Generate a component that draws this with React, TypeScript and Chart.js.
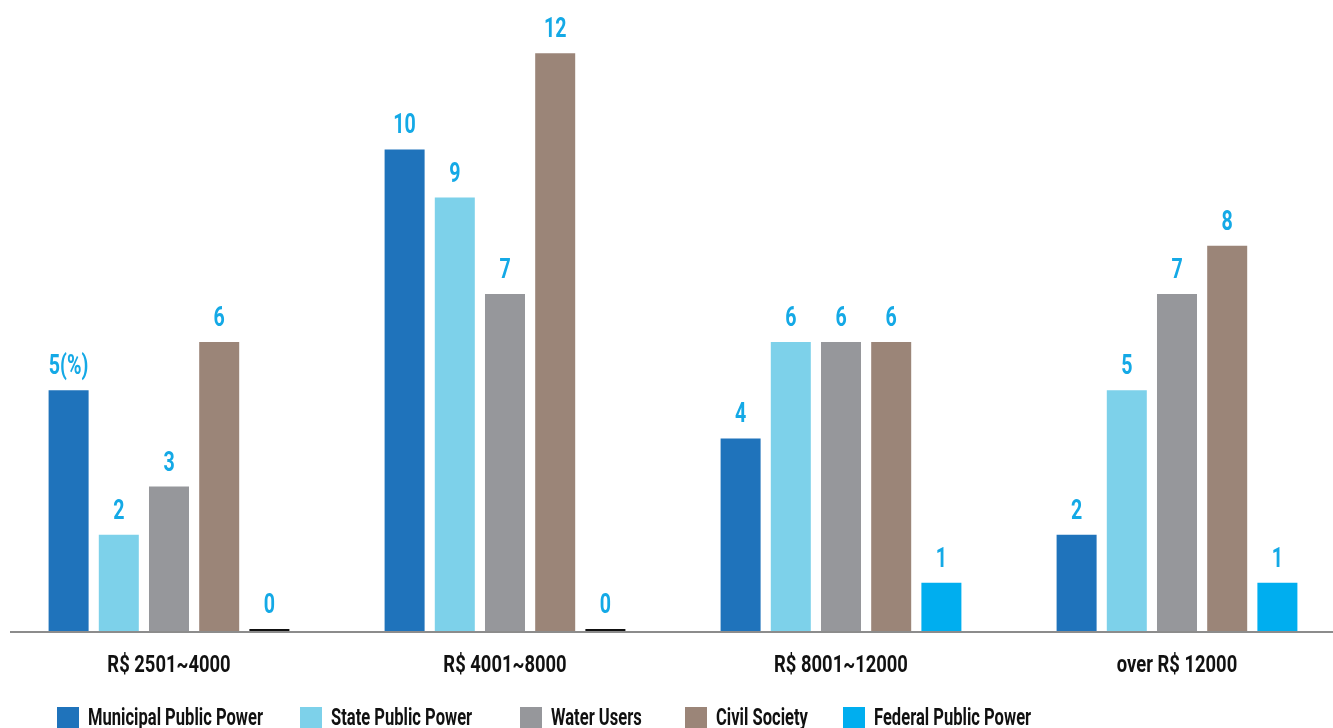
import React, { useEffect, useRef } from "react";
import { Chart, registerables } from "chart.js";

Chart.register(...registerables);

const categories = ["R$ 2501~4000", "R$ 4001~8000", "R$ 8001~12000", "over R$ 12000"];
const seriesNames = ["Municipal Public Power", "State Public Power", "Water Users", "Civil Society", "Federal Public Power"];
const municipal = [5, 10, 4, 2];
const statePower = [2, 9, 6, 5];
const waterUsers = [3, 7, 6, 7];
const civilSociety = [6, 12, 6, 8];
const federal = [0, 0, 1, 1];
const seriesColors = ["#1F73BB", "#7DD1EA", "#96979B", "#9B8578", "#00AEEF"];
const legendX = [57, 300, 520, 685, 843];

const FONT = "Roboto, 'Liberation Sans', sans-serif";

function squeezedText(ctx: any, txt: string, x: number, y: number, sx: number) {
  ctx.save();
  ctx.translate(x, y);
  ctx.scale(sx, 1);
  ctx.fillText(txt, 0, 0);
  ctx.restore();
}

const labelPlugin = {
  id: "valueLabels",
  afterDatasetsDraw(chart: any) {
    const ctx = chart.ctx;
    ctx.save();
    ctx.font = `bold 28px ${FONT}`;
    ctx.fillStyle = "#14A9E6";
    ctx.textAlign = "center";
    ctx.textBaseline = "alphabetic";
    chart.data.datasets.forEach((ds: any, di: number) => {
      const meta = chart.getDatasetMeta(di);
      meta.data.forEach((bar: any, i: number) => {
        const v = ds.data[i];
        let txt = String(v);
        if (di === 0 && i === 0) txt = v + "(%)";
        squeezedText(ctx, txt, bar.x, bar.y - 16, 0.7);
      });
    });
    ctx.restore();
  },
};

const axisPlugin = {
  id: "axisLine",
  beforeDatasetsDraw(chart: any) {
    const ctx = chart.ctx;
    const y = chart.scales.y.getPixelForValue(0);
    ctx.save();
    ctx.strokeStyle = "#8C8C8C";
    ctx.lineWidth = 2;
    ctx.beginPath();
    ctx.moveTo(10, y + 1);
    ctx.lineTo(chart.width, y + 1);
    ctx.stroke();
    ctx.restore();
  },
  afterDraw(chart: any) {
    const ctx = chart.ctx;
    const xs = chart.scales.x;
    const y0 = chart.scales.y.getPixelForValue(0);
    ctx.save();
    ctx.font = `bold 23px ${FONT}`;
    ctx.fillStyle = "#111111";
    ctx.textAlign = "center";
    ctx.textBaseline = "alphabetic";
    categories.forEach((c, i) => {
      squeezedText(ctx, c, xs.getPixelForValue(i), y0 + 41, 0.8);
    });
    ctx.restore();
  },
};

const legendPlugin = {
  id: "customLegend",
  afterDraw(chart: any) {
    const ctx = chart.ctx;
    ctx.save();
    ctx.font = `bold 23px ${FONT}`;
    ctx.textBaseline = "alphabetic";
    ctx.textAlign = "left";
    seriesNames.forEach((name, i) => {
      const x = legendX[i];
      ctx.fillStyle = seriesColors[i];
      ctx.fillRect(x, 707, 22, 22);
      ctx.fillStyle = "#111111";
      squeezedText(ctx, name, x + 31, 725, 0.72);
    });
    ctx.restore();
  },
};

export default function App() {
  const ref = useRef<HTMLCanvasElement>(null);
  useEffect(() => {
    document.body.style.margin = "0";
    const series = [municipal, statePower, waterUsers, civilSociety, federal];
    const chart = new Chart(ref.current!, {
      type: "bar",
      data: {
        labels: categories,
        datasets: series.map((d, i) => ({
          label: seriesNames[i],
          data: d,
          backgroundColor: d.map((v) => (v === 0 ? "#111111" : seriesColors[i])),
          borderWidth: 0,
          minBarLength: 2,
          categoryPercentage: 0.747,
          barPercentage: 0.797,
        })),
      },
      options: {
        responsive: false,
        animation: false,
        layout: { padding: { left: 1, right: 0, top: 5, bottom: 97 } },
        plugins: { legend: { display: false }, tooltip: { enabled: false } },
        scales: {
          x: { display: false },
          y: { display: false, min: 0, max: 13 },
        },
      },
      plugins: [axisPlugin, labelPlugin, legendPlugin],
    });
    return () => chart.destroy();
  }, []);
  return (
    <div style={{ width: 1333, height: 728, overflow: "hidden", position: "relative" }}>
      <canvas ref={ref} width={1345} height={728} style={{ display: "block" }} />
    </div>
  );
}
